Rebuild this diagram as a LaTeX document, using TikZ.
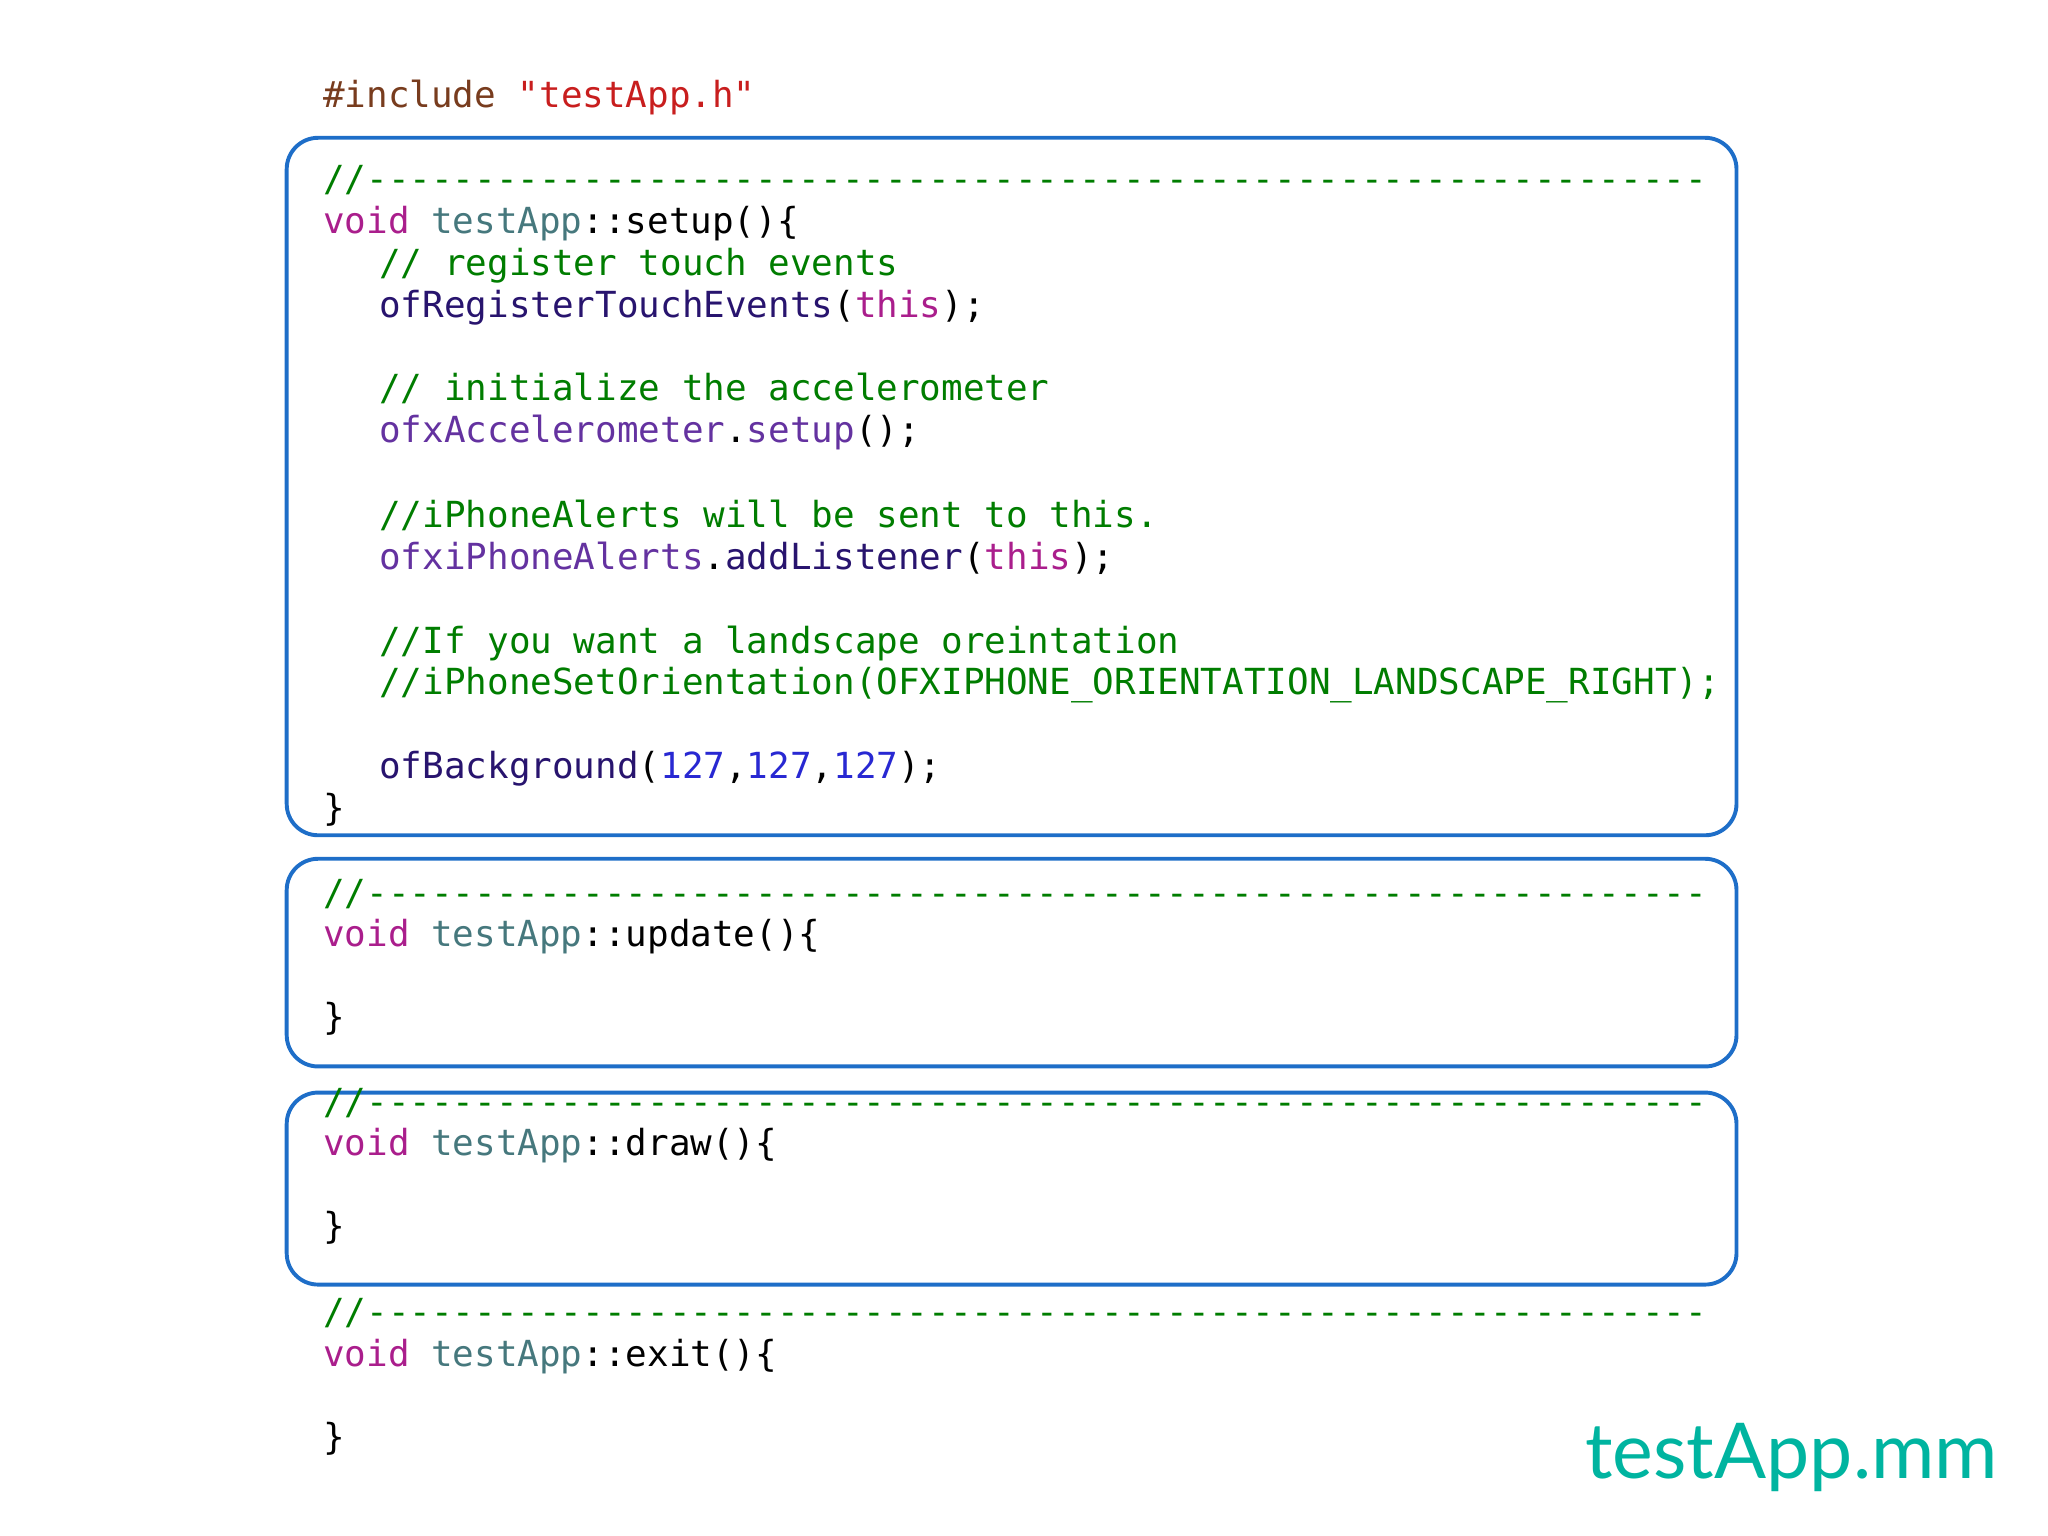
\documentclass[tikz,border=0pt]{standalone}
\usepackage{fontspec}
\setmonofont{DejaVu Sans Mono}
\newfontfamily\titlefont{Lato}
\definecolor{kw}{RGB}{170,30,140}
\definecolor{cls}{RGB}{70,120,125}
\definecolor{cmt}{RGB}{0,125,0}
\definecolor{fn}{RGB}{40,20,110}
\definecolor{ofx}{RGB}{100,50,160}
\definecolor{num}{RGB}{40,40,210}
\definecolor{inc}{RGB}{120,60,30}
\definecolor{str}{RGB}{200,30,30}
\definecolor{boxc}{RGB}{30,110,200}
\definecolor{ttl}{RGB}{0,180,160}
\begin{document}
\begin{tikzpicture}[x=0.5pt,y=-0.5pt,
  code/.style={anchor=base west,inner sep=0pt,font=\ttfamily\fontsize{13.75}{16}\selectfont},
  codebox/.style={draw=boxc,line width=1.5pt,rounded corners=12pt}]
\useasboundingbox (0,0) rectangle (1568,1176);
\newcommand{\dl}{//-{}-{}-{}-{}-{}-{}-{}-{}-{}-{}-{}-{}-{}-{}-{}-{}-{}-{}-{}-{}-{}-{}-{}-{}-{}-{}-{}-{}-{}-{}-{}-{}-{}-{}-{}-{}-{}-{}-{}-{}-{}-{}-{}-{}-{}-{}-{}-{}-{}-{}-{}-{}-{}-{}-{}-{}-{}-{}-{}-{}-{}-{}}
\node[codebox,minimum width=555pt,minimum height=267pt,anchor=north west] (b1) at (218,104) {};
\node[codebox,minimum width=555pt,minimum height=79.5pt,anchor=north west] (b2) at (218,656) {};
\node[codebox,minimum width=555pt,minimum height=73.5pt,anchor=north west] (b3) at (218,835) {};
\node[code] (inc) at (247,82) {\color{inc}\#include \color{str}"testApp.h"};
\node[code] (a1) at (247,147) {\color{cmt}\dl};
\node[code] (a2) at (247,179) {\color{kw}void \color{cls}testApp\color{black}::setup()\{};
\node[code] (a3) at (290,211) {\color{cmt}// register touch events};
\node[code] (a4) at (290,243) {\color{fn}ofRegisterTouchEvents\color{black}(\color{kw}this\color{black});};
\node[code] (a5) at (290,307) {\color{cmt}// initialize the accelerometer};
\node[code] (a6) at (290,339) {\color{ofx}ofxAccelerometer\color{black}.\color{ofx}setup\color{black}();};
\node[code] (a7) at (290,404) {\color{cmt}//iPhoneAlerts will be sent to this.};
\node[code] (a8) at (290,436) {\color{ofx}ofxiPhoneAlerts\color{black}.\color{fn}addListener\color{black}(\color{kw}this\color{black});};
\node[code] (a9) at (290,500) {\color{cmt}//If you want a landscape oreintation};
\node[code] (a10) at (290,532) {\color{cmt}//iPhoneSetOrientation(OFXIPHONE\_ORIENTATION\_LANDSCAPE\_RIGHT);};
\node[code] (a11) at (290,596) {\color{fn}ofBackground\color{black}(\color{num}127\color{black},\color{num}127\color{black},\color{num}127\color{black});};
\node[code] (a12) at (247,628) {\}};
\node[code] (u1) at (247,693) {\color{cmt}\dl};
\node[code] (u2) at (247,725) {\color{kw}void \color{cls}testApp\color{black}::update()\{};
\node[code] (u3) at (247,788) {\}};
\node[code] (d1) at (247,853) {\color{cmt}\dl};
\node[code] (d2) at (247,885) {\color{kw}void \color{cls}testApp\color{black}::draw()\{};
\node[code] (d3) at (247,948) {\}};
\node[code] (e1) at (247,1014) {\color{cmt}\dl};
\node[code] (e2) at (247,1046) {\color{kw}void \color{cls}testApp\color{black}::exit()\{};
\node[code] (e3) at (247,1110) {\}};
\node[anchor=base east,inner sep=0pt,text=ttl,font=\titlefont\fontsize{29.5}{34}\selectfont] (t) at (1530,1132) {testApp.mm};
\end{tikzpicture}
\end{document}
